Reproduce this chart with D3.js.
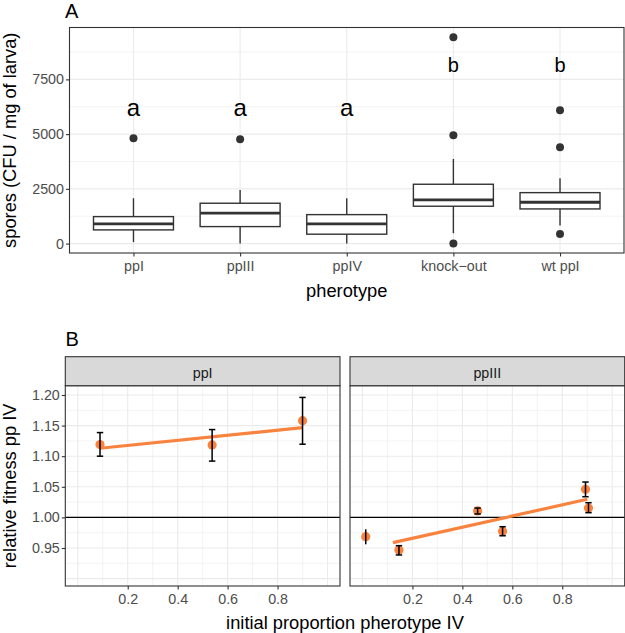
<!DOCTYPE html>
<html><head><meta charset="utf-8">
<script src="https://cdn.jsdelivr.net/npm/d3@7"></script>
<style>body{margin:0;background:#fff}svg{display:block;font-family:"Liberation Sans",Arial,sans-serif}</style>
</head><body>
<script>
// ---------- Panel A data ----------
const categories = ["ppI","ppIII","ppIV","knock\u2212out","wt ppI"];
const whiskerLow  = [64, 0, 0, 474, 821];
const q1          = [625, 776, 429, 1706, 1583];
const median      = [899, 1387, 899, 1994, 1889];
const q3          = [1232, 1843, 1323, 2710, 2327];
const whiskerHigh = [2071, 2450, 2071, 3864, 2983];
const outliers    = [[4808],[4763],[],[9430,4945,0],[6086,4398,442]];
const groupLetters = ["a","a","a","b","b"];
const letterY      = [6200,6200,6200,8150,8150];
const yTicksA = [0,2500,5000,7500];
const yMinorA = [1250,3750,6250,8750];

// ---------- Panel B data ----------
const facets = ["ppI","ppIII"];
const ppI_x  = [0.089, 0.538, 0.900];
const ppI_y  = [1.119, 1.1185, 1.158];
const ppI_lo = [1.100, 1.092, 1.1196];
const ppI_hi = [1.1386, 1.1435, 1.196];
const ppI_fitX = [0.089, 0.900];
const ppI_fitY = [1.113, 1.1467];
const ppIII_x  = [0.013, 0.146, 0.461, 0.561, 0.893, 0.905];
const ppIII_y  = [0.9685, 0.9467, 1.0105, 0.9773, 1.0459, 1.0153];
const ppIII_lo = [0.956, 0.9386, 1.0056, 0.970, 1.0338, 1.0077];
const ppIII_hi = [0.9806, 0.9538, 1.0153, 0.9848, 1.0578, 1.024];
const ppIII_cap = [false, true, true, true, true, true];
const ppIII_fitX = [0.122, 0.900];
const ppIII_fitY = [0.9587, 1.0296];
const xTicksB = [0.2,0.4,0.6,0.8];
const xGridB  = [0,0.1,0.2,0.3,0.4,0.5,0.6,0.7,0.8,0.9,1.0];
const yTicksB = [0.95,1.00,1.05,1.10,1.15,1.20];
const yGridMajorB = [0.90,0.95,1.00,1.05,1.10,1.15,1.20];
const yGridMinorB = [0.925,0.975,1.025,1.075,1.125,1.175];

const W = 625, H = 633;
const svg = d3.select("body").append("svg").attr("width",W).attr("height",H);
const grid = "#EBEBEB", border = "#333333", tickCol = "#4D4D4D", dark = "#333333";
const orange = "#F7833F";
const tickFont = 14.3;

// ================= Panel A =================
const A = {l:69.5, r:624, t:27.5, b:253};
const xA = d3.scalePoint().domain(categories).range([A.l, A.r]).padding(0.6);
const yA = d3.scaleLinear().domain([-430, 9870]).range([A.b, A.t]);
const step = xA.step();
const boxW = step * 0.75;
const gA = svg.append("g");

gA.selectAll(".minA").data(yMinorA).join("line")
  .attr("x1",A.l).attr("x2",A.r).attr("y1",d=>yA(d)).attr("y2",d=>yA(d))
  .attr("stroke",grid).attr("stroke-width",0.6);
gA.selectAll(".majA").data(yTicksA).join("line")
  .attr("x1",A.l).attr("x2",A.r).attr("y1",d=>yA(d)).attr("y2",d=>yA(d))
  .attr("stroke",grid).attr("stroke-width",1.1);
gA.selectAll(".vA").data(categories).join("line")
  .attr("x1",d=>xA(d)).attr("x2",d=>xA(d)).attr("y1",A.t).attr("y2",A.b)
  .attr("stroke",grid).attr("stroke-width",1.1);

const boxes = gA.selectAll(".box").data(categories).join("g");
boxes.append("line").attr("x1",d=>xA(d)).attr("x2",d=>xA(d))
  .attr("y1",(d,i)=>yA(q3[i])).attr("y2",(d,i)=>yA(whiskerHigh[i]))
  .attr("stroke",dark).attr("stroke-width",1.4);
boxes.append("line").attr("x1",d=>xA(d)).attr("x2",d=>xA(d))
  .attr("y1",(d,i)=>yA(q1[i])).attr("y2",(d,i)=>yA(whiskerLow[i]))
  .attr("stroke",dark).attr("stroke-width",1.4);
boxes.append("rect").attr("x",d=>xA(d)-boxW/2).attr("width",boxW)
  .attr("y",(d,i)=>yA(q3[i])).attr("height",(d,i)=>yA(q1[i])-yA(q3[i]))
  .attr("fill","#fff").attr("stroke",dark).attr("stroke-width",1.4);
boxes.append("line").attr("x1",d=>xA(d)-boxW/2).attr("x2",d=>xA(d)+boxW/2)
  .attr("y1",(d,i)=>yA(median[i])).attr("y2",(d,i)=>yA(median[i]))
  .attr("stroke",dark).attr("stroke-width",2.8);
categories.forEach((c,i)=>{
  gA.selectAll(null).data(outliers[i]).join("circle")
    .attr("cx",xA(c)).attr("cy",d=>yA(d)).attr("r",4).attr("fill",dark);
});
gA.selectAll(".let").data(categories).join("text")
  .attr("x",d=>xA(d)).attr("y",(d,i)=>yA(letterY[i]))
  .attr("text-anchor","middle").attr("dominant-baseline","central")
  .attr("font-size",(d,i)=>groupLetters[i]==="a"?24:20).attr("fill","#000")
  .text((d,i)=>groupLetters[i]);

gA.append("rect").attr("x",A.l).attr("y",A.t).attr("width",A.r-A.l).attr("height",A.b-A.t)
  .attr("fill","none").attr("stroke",border).attr("stroke-width",1.1);

const axA_y = gA.append("g").attr("transform",`translate(${A.l},0)`)
  .call(d3.axisLeft(yA).tickValues(yTicksA).tickFormat(d3.format("d")).tickSize(3.5).tickPadding(2));
const axA_x = gA.append("g").attr("transform",`translate(0,${A.b})`)
  .call(d3.axisBottom(xA).tickSize(3.5).tickPadding(4));
[axA_y, axA_x].forEach(ax=>{
  ax.select(".domain").remove();
  ax.selectAll(".tick line").attr("stroke",border).attr("stroke-width",1.1);
  ax.selectAll(".tick text").attr("fill",tickCol).attr("font-size",tickFont)
    .attr("font-family","Liberation Sans, Arial, sans-serif");
});

svg.append("text").attr("x",65).attr("y",17.5).attr("font-size",20).text("A");
svg.append("text").attr("transform",`translate(16,${(A.t+A.b)/2}) rotate(-90)`)
  .attr("text-anchor","middle").attr("font-size",18.3).text("spores (CFU / mg of larva)");
svg.append("text").attr("x",(A.l+A.r)/2).attr("y",297).attr("text-anchor","middle")
  .attr("font-size",18.3).text("pherotype");

// ================= Panel B =================
const B = {t:385.7, b:586, stripT:356.7};
const facetX = [[65.3,340],[350,624.7]];
const yB = d3.scaleLinear().domain([0.8879, 1.2152]).range([B.b, B.t]);
const facetData = [
  {x:ppI_x, y:ppI_y, lo:ppI_lo, hi:ppI_hi, cap:ppI_x.map(()=>true), fx:ppI_fitX, fy:ppI_fitY},
  {x:ppIII_x, y:ppIII_y, lo:ppIII_lo, hi:ppIII_hi, cap:ppIII_cap, fx:ppIII_fitX, fy:ppIII_fitY}
];

facets.forEach((name,fi)=>{
  const [l,r] = facetX[fi];
  const xB = d3.scaleLinear().domain([-0.05,1.05]).range([l,r]);
  const g = svg.append("g");
  const D = facetData[fi];
  g.selectAll(".minB").data(yGridMinorB).join("line")
    .attr("x1",l).attr("x2",r).attr("y1",d=>yB(d)).attr("y2",d=>yB(d))
    .attr("stroke",grid).attr("stroke-width",0.6);
  g.selectAll(".majB").data(yGridMajorB).join("line")
    .attr("x1",l).attr("x2",r).attr("y1",d=>yB(d)).attr("y2",d=>yB(d))
    .attr("stroke",grid).attr("stroke-width",1.1);
  g.selectAll(".vB").data(xGridB).join("line")
    .attr("x1",d=>xB(d)).attr("x2",d=>xB(d)).attr("y1",B.t).attr("y2",B.b)
    .attr("stroke",grid).attr("stroke-width",(d,i)=>i%2===0?1.1:0.6);
  g.append("line").attr("x1",l).attr("x2",r).attr("y1",yB(1)).attr("y2",yB(1))
    .attr("stroke","#000").attr("stroke-width",1.2);
  g.selectAll(".pt").data(D.x).join("circle")
    .attr("cx",d=>xB(d)).attr("cy",(d,i)=>yB(D.y[i])).attr("r",4.6).attr("fill",orange);
  g.append("line").attr("x1",xB(D.fx[0])).attr("x2",xB(D.fx[1]))
    .attr("y1",yB(D.fy[0])).attr("y2",yB(D.fy[1]))
    .attr("stroke",orange).attr("stroke-width",3.2);
  D.x.forEach((xv,i)=>{
    const cx = xB(xv);
    g.append("line").attr("x1",cx).attr("x2",cx)
      .attr("y1",yB(D.lo[i])).attr("y2",yB(D.hi[i]))
      .attr("stroke","#000").attr("stroke-width",1.5);
    if(D.cap[i]){
      [D.lo[i], D.hi[i]].forEach(v=>{
        g.append("line").attr("x1",cx-3.2).attr("x2",cx+3.2)
          .attr("y1",yB(v)).attr("y2",yB(v))
          .attr("stroke","#000").attr("stroke-width",1.5);
      });
    }
  });
  g.append("rect").attr("x",l).attr("y",B.t).attr("width",r-l).attr("height",B.b-B.t)
    .attr("fill","none").attr("stroke",border).attr("stroke-width",1.1);
  g.append("rect").attr("x",l).attr("y",B.stripT).attr("width",r-l).attr("height",B.t-B.stripT)
    .attr("fill","#D9D9D9").attr("stroke",border).attr("stroke-width",1.1);
  g.append("text").attr("x",(l+r)/2).attr("y",377.5).attr("text-anchor","middle")
    .attr("font-size",tickFont).attr("fill","#1A1A1A").text(name);
  const ax = g.append("g").attr("transform",`translate(0,${B.b})`)
    .call(d3.axisBottom(xB).tickValues(xTicksB).tickFormat(d3.format(".1f")).tickSize(3.5).tickPadding(4));
  ax.select(".domain").remove();
  ax.selectAll(".tick line").attr("stroke",border).attr("stroke-width",1.1);
  ax.selectAll(".tick text").attr("fill",tickCol).attr("font-size",tickFont)
    .attr("font-family","Liberation Sans, Arial, sans-serif");
  if(fi===0){
    const ay = g.append("g").attr("transform",`translate(${l},0)`)
      .call(d3.axisLeft(yB).tickValues(yTicksB).tickFormat(d3.format(".2f")).tickSize(3.5).tickPadding(2));
    ay.select(".domain").remove();
    ay.selectAll(".tick line").attr("stroke",border).attr("stroke-width",1.1);
    ay.selectAll(".tick text").attr("fill",tickCol).attr("font-size",tickFont)
      .attr("font-family","Liberation Sans, Arial, sans-serif");
  }
});

svg.append("text").attr("x",65.5).attr("y",345.7).attr("font-size",20).text("B");
svg.append("text").attr("transform",`translate(16,${(B.t+B.b)/2}) rotate(-90)`)
  .attr("text-anchor","middle").attr("font-size",18.3).text("relative fitness pp IV");
svg.append("text").attr("x",(65.3+624.7)/2).attr("y",628.5).attr("text-anchor","middle")
  .attr("font-size",18.3).text("initial proportion pherotype IV");
</script>
</body></html>
